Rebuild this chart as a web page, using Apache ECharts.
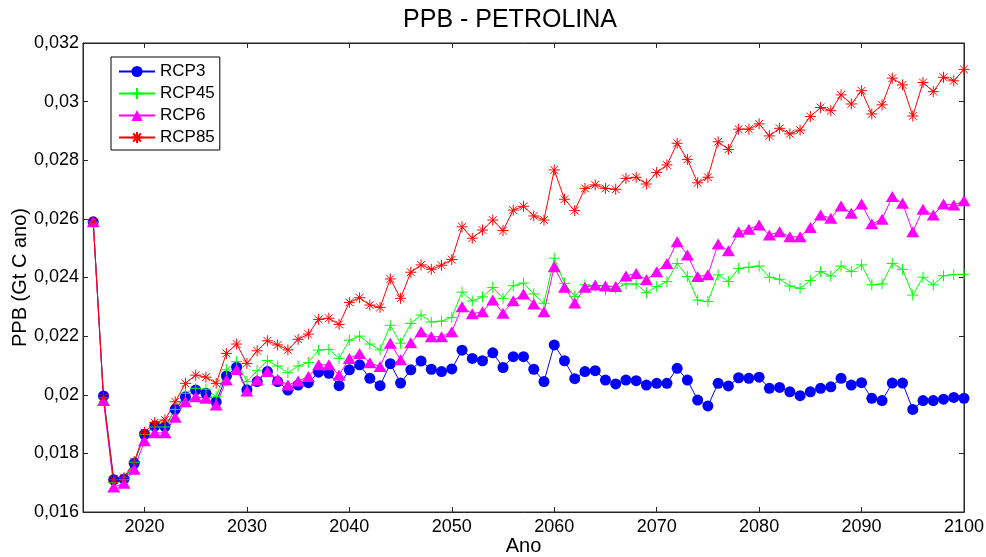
<!DOCTYPE html>
<html>
<head>
<meta charset="utf-8">
<script src="https://cdn.jsdelivr.net/npm/echarts@6/dist/echarts.min.js"></script>
<style>
  html, body { margin: 0; padding: 0; background: #fff; }
  #chart { width: 986px; height: 557px; }
</style>
</head>
<body>
<div id="chart"></div>
<script>
// Years 2015..2100
const years = [];
for (let y = 2015; y <= 2100; y++) years.push(y);

const xTicks = [2020, 2030, 2040, 2050, 2060, 2070, 2080, 2090, 2100];

const rcp3 = [
  0.0259, 0.01996, 0.0171, 0.01712, 0.01766, 0.01865, 0.01893, 0.01891, 0.0195, 0.01993,
  0.02016, 0.02005, 0.01976, 0.02064, 0.02094, 0.02017, 0.02045, 0.02079, 0.02045, 0.02016,
  0.02033, 0.02041, 0.02077, 0.02073, 0.02031, 0.02085, 0.02102, 0.02056, 0.02031, 0.02106,
  0.0204, 0.02085, 0.02115, 0.02087, 0.02079, 0.02088, 0.02152, 0.02124, 0.02116, 0.02143,
  0.02093, 0.0213, 0.0213, 0.02087, 0.02045, 0.0217, 0.02116, 0.02055, 0.02079, 0.02082,
  0.0205, 0.02037, 0.0205, 0.02048, 0.02033, 0.02039, 0.02039, 0.0209, 0.0205, 0.01982,
  0.01962, 0.02039, 0.0203, 0.02058, 0.02056, 0.0206, 0.02022, 0.02025, 0.0201, 0.01997,
  0.0201, 0.02022, 0.02027, 0.02056, 0.02033, 0.02041, 0.01988, 0.0198, 0.0204, 0.0204,
  0.0195, 0.0198, 0.0198, 0.01985, 0.01991, 0.01988
];

const rcp45 = [
  0.0259, 0.0199, 0.0170, 0.0171, 0.0177, 0.01865, 0.0189, 0.0189, 0.0195, 0.02005,
  0.02022, 0.02019, 0.01993, 0.02085, 0.02113, 0.02045, 0.02082, 0.02117, 0.02098, 0.02075,
  0.02098, 0.0211, 0.02152, 0.02155, 0.02124, 0.02186, 0.022, 0.02173, 0.02153, 0.02237,
  0.02176, 0.02243, 0.02272, 0.02248, 0.02251, 0.02264, 0.0235, 0.0232, 0.02334, 0.02366,
  0.02329, 0.02372, 0.02381, 0.02344, 0.02312, 0.02466, 0.0238, 0.02335, 0.02375, 0.02369,
  0.02357, 0.02363, 0.02378, 0.02378, 0.02348, 0.02369, 0.02386, 0.02448, 0.02403, 0.02323,
  0.02318, 0.02409, 0.02386, 0.02431, 0.02435, 0.02439, 0.02401, 0.02394, 0.02371, 0.02363,
  0.0239, 0.0242, 0.02405, 0.02439, 0.0242, 0.02443, 0.02375, 0.02378, 0.02448, 0.02428,
  0.0234, 0.02401, 0.02375, 0.02406, 0.0241, 0.02411
];

const rcp6 = [
  0.0259, 0.0198, 0.01685, 0.01698, 0.01746, 0.01843, 0.0187, 0.0187, 0.01923, 0.01976,
  0.01993, 0.01988, 0.01965, 0.0205, 0.02086, 0.02013, 0.0205, 0.02079, 0.02053, 0.02033,
  0.02047, 0.02062, 0.02102, 0.02102, 0.02067, 0.02124, 0.02141, 0.02109, 0.02096, 0.02176,
  0.02119, 0.02177, 0.02215, 0.02198, 0.02198, 0.02215, 0.023, 0.02276, 0.02283, 0.02323,
  0.02278, 0.02321, 0.02344, 0.0231, 0.02283, 0.02437, 0.02367, 0.02313, 0.02367, 0.02374,
  0.02371, 0.02369, 0.02405, 0.02414, 0.02392, 0.0242, 0.02448, 0.02522, 0.02477, 0.02403,
  0.02409, 0.02514, 0.02491, 0.02555, 0.02565, 0.02579, 0.02545, 0.02556, 0.02539, 0.02539,
  0.02571, 0.02613, 0.02602, 0.02644, 0.02619, 0.02651, 0.02583, 0.02599, 0.02676, 0.02653,
  0.02556, 0.02633, 0.02613, 0.02651, 0.02647, 0.02662
];

const rcp85 = [
  0.0259, 0.0199, 0.0171, 0.01718, 0.01772, 0.01872, 0.01905, 0.01914, 0.01976, 0.02039,
  0.02067, 0.0206, 0.02039, 0.02141, 0.02173, 0.02107, 0.0215, 0.02184, 0.0217, 0.02153,
  0.02189, 0.02207, 0.02257, 0.02261, 0.0224, 0.02315, 0.02331, 0.02306, 0.02298, 0.02395,
  0.02329, 0.02418, 0.02443, 0.02428, 0.02442, 0.02461, 0.02573, 0.02534, 0.02562, 0.02596,
  0.0256, 0.0263, 0.02643, 0.0261, 0.02596, 0.02767, 0.02667, 0.02628, 0.02704, 0.02716,
  0.02704, 0.02701, 0.02738, 0.02742, 0.02719, 0.02758, 0.02784, 0.02858, 0.02803, 0.02723,
  0.02742, 0.02863, 0.02837, 0.02906, 0.02906, 0.02924, 0.02883, 0.02909, 0.0289, 0.02903,
  0.02949, 0.0298, 0.02969, 0.03023, 0.02992, 0.03037, 0.02958, 0.02989, 0.0308, 0.03057,
  0.02951, 0.03065, 0.03034, 0.03083, 0.03071, 0.0311
];

const plusPath = 'path://M5,0L5,10M0,5L10,5';
const starPath = 'path://M5,0L5,10M0,5L10,5M1.5,1.5L8.5,8.5M8.5,1.5L1.5,8.5';

const pairs = arr => years.map((y, i) => [y, arr[i]]);

const FONT = 'Liberation Sans, Arial, sans-serif';
const AXIS_COLOR = '#262626';

function lineSeries(name, data, color, symbol, size, stroked) {
  return {
    name: name,
    type: 'line',
    data: pairs(data),
    symbol: symbol,
    symbolSize: size,
    showSymbol: true,
    showAllSymbol: true,
    animation: false,
    color: color,
    lineStyle: { color: color, width: 1 },
    itemStyle: stroked
      ? { color: 'rgba(0,0,0,0)', borderColor: color, borderWidth: 1 }
      : { color: color, borderWidth: 0 },
    emphasis: { disabled: true }
  };
}

const chart = echarts.init(document.getElementById('chart'), null, { renderer: 'canvas' });

const tickStyle = { inside: true, length: 5, lineStyle: { color: AXIS_COLOR } };

chart.setOption({
  backgroundColor: '#fff',
  animation: false,
  textStyle: { fontFamily: FONT },
  title: {
    text: 'PPB - PETROLINA',
    left: 505,
    textAlign: 'center',
    top: 3,
    textStyle: { fontFamily: FONT, fontSize: 25, fontWeight: 'normal', color: '#000' }
  },
  legend: {
    orient: 'vertical',
    left: 111,
    top: 57,
    padding: [6, 5, 4, 7],
    itemWidth: 36,
    itemHeight: 14,
    itemGap: 5,
    borderColor: '#000',
    borderWidth: 1,
    backgroundColor: '#fff',
    textStyle: { fontFamily: FONT, fontSize: 17, color: '#000' },
    data: ['RCP3', 'RCP45', 'RCP6', 'RCP85']
  },
  grid: {
    left: 83, right: 22, top: 43, bottom: 45,
    outerBoundsMode: 'none',
    containLabel: false,
    show: true, borderColor: AXIS_COLOR, borderWidth: 1, backgroundColor: '#fff'
  },
  xAxis: [{
    type: 'value',
    min: 2014, max: 2100,
    name: 'Ano',
    nameLocation: 'middle',
    nameGap: 24,
    nameMoveOverlap: false,
    nameTextStyle: { fontFamily: FONT, fontSize: 20, color: '#000' },
    axisLine: { show: true, lineStyle: { color: AXIS_COLOR } },
    axisTick: Object.assign({ customValues: xTicks }, tickStyle),
    axisLabel: {
      customValues: xTicks, fontFamily: FONT, fontSize: 18, color: '#000', margin: 6,
      formatter: v => String(v)
    },
    splitLine: { show: false }
  }, {
    type: 'value',
    position: 'top',
    min: 2014, max: 2100,
    axisLine: { show: true, lineStyle: { color: AXIS_COLOR } },
    axisTick: Object.assign({ customValues: xTicks }, tickStyle),
    axisLabel: { show: false, customValues: xTicks },
    splitLine: { show: false }
  }],
  yAxis: [{
    type: 'value',
    min: 0.016, max: 0.032, interval: 0.002,
    name: 'PPB (Gt C ano)',
    nameLocation: 'middle',
    nameGap: 53,
    nameMoveOverlap: false,
    nameTextStyle: { fontFamily: FONT, fontSize: 20, color: '#000' },
    axisLine: { show: true, lineStyle: { color: AXIS_COLOR } },
    axisTick: tickStyle,
    axisLabel: {
      fontFamily: FONT, fontSize: 18, color: '#000', margin: 4,
      formatter: v => String(+v.toFixed(3)).replace('.', ',')
    },
    splitLine: { show: false }
  }, {
    type: 'value',
    position: 'right',
    min: 0.016, max: 0.032, interval: 0.002,
    axisLine: { show: true, lineStyle: { color: AXIS_COLOR } },
    axisTick: tickStyle,
    axisLabel: { show: false },
    splitLine: { show: false }
  }],
  series: [
    lineSeries('RCP3', rcp3, '#0000ff', 'circle', 11, false),
    lineSeries('RCP45', rcp45, '#00ff00', plusPath, 11, true),
    lineSeries('RCP6', rcp6, '#ff00ff', 'triangle', [13, 11], false),
    lineSeries('RCP85', rcp85, '#ff0000', starPath, 11, true)
  ]
});
</script>
</body>
</html>
